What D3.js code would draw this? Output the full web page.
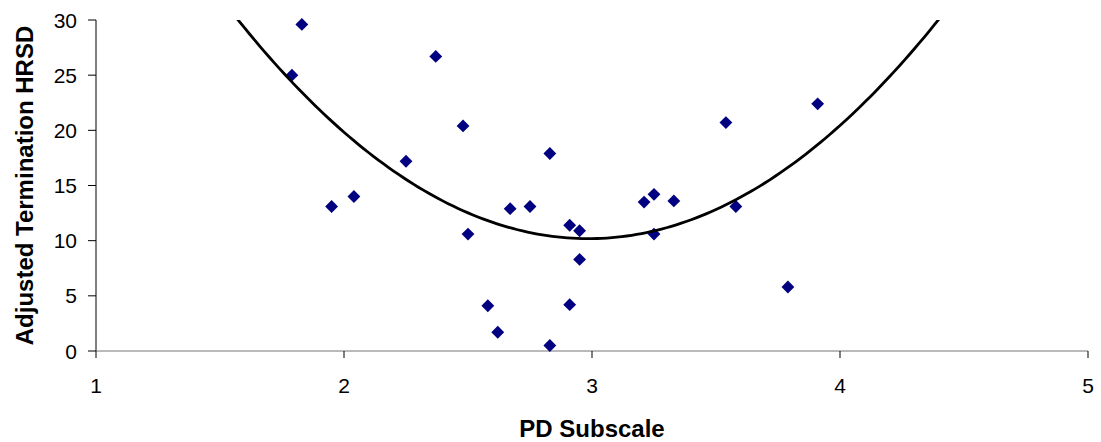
<!DOCTYPE html>
<html>
<head>
<meta charset="utf-8">
<script src="https://cdn.jsdelivr.net/npm/d3@7"></script>
<style>
  body { margin: 0; background: #fff; }
  svg { display: block; font-family: "Liberation Sans", Arial, sans-serif; }
</style>
</head>
<body>
<svg id="chart" width="1101" height="442"></svg>
<script>
// PD subscale vs adjusted termination HRSD
var pdScore = [1.79, 1.83, 1.95, 2.04, 2.25, 2.37, 2.48, 2.50, 2.58, 2.62, 2.67, 2.75, 2.83,
               2.83, 2.91, 2.91, 2.95, 2.95, 3.21, 3.25, 3.25, 3.33, 3.54, 3.58, 3.79, 3.91];
var hrsd    = [25.0, 29.6, 13.1, 14.0, 17.2, 26.7, 20.4, 10.6, 4.1, 1.7, 12.9, 13.1, 17.9,
               0.5, 11.4, 4.2, 10.9, 8.3, 13.5, 14.2, 10.6, 13.6, 20.7, 13.1, 5.8, 22.4];
var xTicks = [1, 2, 3, 4, 5];
var yTicks = [0, 5, 10, 15, 20, 25, 30];

var margin = {left: 96, top: 20, right: 13, bottom: 91};
var width = 1101 - margin.left - margin.right;
var height = 442 - margin.top - margin.bottom;

var svg = d3.select("#chart");
var g = svg.append("g").attr("transform", "translate(" + margin.left + "," + margin.top + ")");

var x = d3.scaleLinear().domain([1, 5]).range([0, width]);
var y = d3.scaleLinear().domain([0, 30]).range([height, 0]);

// 2nd order polynomial trend line (least squares)
function polyFit(xs, ys) {
    var n = xs.length, s = [0, 0, 0, 0, 0], t = [0, 0, 0];
    for (var i = 0; i < n; i++) {
        var p = 1;
        for (var k = 0; k < 5; k++) { s[k] += p; if (k < 3) t[k] += p * ys[i]; p *= xs[i]; }
    }
    var m = [[s[0], s[1], s[2], t[0]], [s[1], s[2], s[3], t[1]], [s[2], s[3], s[4], t[2]]];
    for (var c = 0; c < 3; c++) {
        for (var r = c + 1; r < 3; r++) {
            var f = m[r][c] / m[c][c];
            for (var j = c; j < 4; j++) m[r][j] -= f * m[c][j];
        }
    }
    var b = [0, 0, 0];
    for (var r2 = 2; r2 >= 0; r2--) {
        var v = m[r2][3];
        for (var j2 = r2 + 1; j2 < 3; j2++) v -= m[r2][j2] * b[j2];
        b[r2] = v / m[r2][r2];
    }
    return b;
}
var coef = polyFit(pdScore, hrsd);

svg.append("defs").append("clipPath").attr("id", "plotclip")
  .append("rect").attr("width", width).attr("height", height);

var trend = d3.range(1, 5.001, 0.02).map(function(v){
    return [v, coef[0] + coef[1] * v + coef[2] * v * v];
});

// axes
g.append("line")
  .attr("x1", 0).attr("x2", 0).attr("y1", 0).attr("y2", height)
  .attr("stroke", "#000").attr("stroke-width", 1);
g.append("line")
  .attr("x1", 0).attr("x2", width).attr("y1", height).attr("y2", height)
  .attr("stroke", "#777").attr("stroke-width", 1.2);

g.selectAll(".ytick").data(yTicks).enter().append("line")
  .attr("x1", -8).attr("x2", 0)
  .attr("y1", function(d){ return y(d); }).attr("y2", function(d){ return y(d); })
  .attr("stroke", "#000");
g.selectAll(".ylab").data(yTicks).enter().append("text")
  .attr("x", -19).attr("y", function(d){ return y(d); })
  .attr("dy", "0.36em").attr("text-anchor", "end")
  .style("font-size", "21px").text(function(d){ return d; });

g.selectAll(".xtick").data(xTicks).enter().append("line")
  .attr("x1", function(d){ return x(d); }).attr("x2", function(d){ return x(d); })
  .attr("y1", height).attr("y2", height + 7)
  .attr("stroke", "#000");
g.selectAll(".xlab").data(xTicks).enter().append("text")
  .attr("x", function(d){ return x(d); }).attr("y", height + 42)
  .attr("text-anchor", "middle")
  .style("font-size", "21px").text(function(d){ return d; });

// points
g.selectAll(".pt").data(pdScore).enter().append("path")
  .attr("d", d3.symbol().type(d3.symbolDiamond2).size(105))
  .attr("transform", function(d, i){ return "translate(" + x(d) + "," + y(hrsd[i]) + ")"; })
  .attr("fill", "#000080");

g.append("path")
  .datum(trend)
  .attr("clip-path", "url(#plotclip)")
  .attr("fill", "none").attr("stroke", "#000").attr("stroke-width", 2.8)
  .attr("d", d3.line().x(function(d){ return x(d[0]); }).y(function(d){ return y(d[1]); }));

// titles
svg.append("text")
  .attr("transform", "translate(33," + (margin.top + height / 2) + ") rotate(-90)")
  .attr("text-anchor", "middle")
  .style("font-size", "24px").style("font-weight", "bold")
  .text("Adjusted Termination HRSD");
svg.append("text")
  .attr("x", margin.left + width / 2).attr("y", 437)
  .attr("text-anchor", "middle")
  .style("font-size", "24px").style("font-weight", "bold")
  .text("PD Subscale");
</script>
</body>
</html>
